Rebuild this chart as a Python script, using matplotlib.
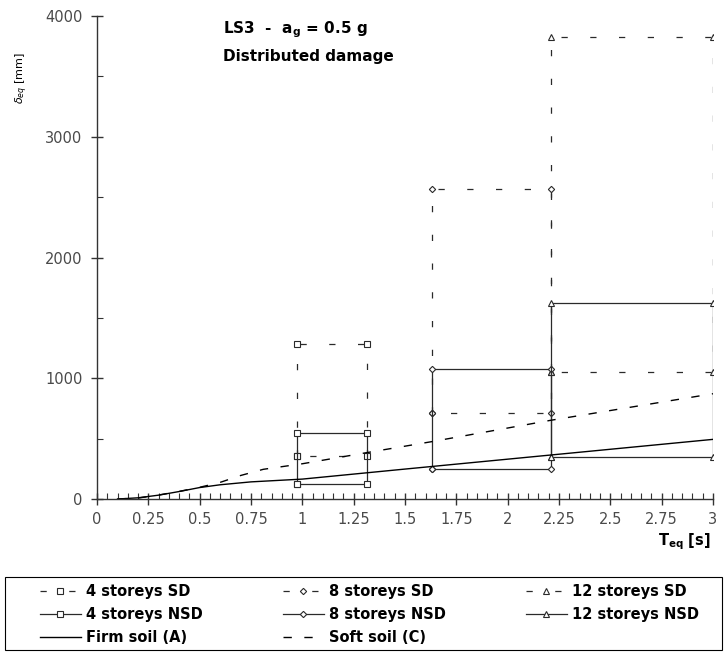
import matplotlib
matplotlib.use('Agg')
import matplotlib.pyplot as plt
from matplotlib.ticker import MultipleLocator, FormatStrFormatter
from matplotlib.patches import Rectangle

plt.rcParams['font.family'] = ['DejaVu Sans']
plt.rcParams['mathtext.fontset'] = 'dejavusans'

# Box limits: (T_left, T_right) and (delta_low, delta_high)
t4 = [0.975, 1.315]
t8 = [1.63, 2.21]
t12 = [2.21, 3.0]
sd4 = [356, 1282]
nsd4 = [124, 543]
sd8 = [709, 2564]
nsd8 = [245, 1078]
sd12 = [1056, 3830]
nsd12 = [350, 1621]

# Displacement spectra
firm_T = [0.1, 0.2, 0.3, 0.4, 0.5, 0.6, 0.75, 1.0, 1.5, 2.0, 2.5, 3.0]
firm_d = [0, 10, 32, 62, 95, 118, 142, 165, 248, 330, 412, 494]
soft_T = [0.1, 0.2, 0.3, 0.4, 0.5, 0.6, 0.7, 0.81, 1.0, 1.31, 1.63, 2.21, 3.0]
soft_d = [0, 8, 33, 63, 97, 138, 195, 246, 292, 383, 475, 652, 872]

x_ticks = [0, 0.25, 0.5, 0.75, 1, 1.25, 1.5, 1.75, 2, 2.25, 2.5, 2.75, 3]
y_ticks = [0, 1000, 2000, 3000, 4000]

LINE = '#2a2a2a'
SD_DASH = (0, (5, 18))
SOFT_DASH = (0, (6, 9))


def rect(t, d):
    xs = [t[0], t[0], t[1], t[1], t[0]]
    ys = [d[0], d[1], d[1], d[0], d[0]]
    return xs, ys


fig = plt.figure(figsize=(7.27, 6.53), dpi=100)
ax = fig.add_axes([0.1334, 0.2358, 0.8473, 0.7397])

boxes = [
    (t4, sd4, 's', SD_DASH, '4 storeys SD'),
    (t8, sd8, 'D', SD_DASH, '8 storeys SD'),
    (t12, sd12, '^', SD_DASH, '12 storeys SD'),
    (t4, nsd4, 's', '-', '4 storeys NSD'),
    (t8, nsd8, 'D', '-', '8 storeys NSD'),
    (t12, nsd12, '^', '-', '12 storeys NSD'),
]
handles = {}
for t, d, m, ls, lab in boxes:
    xs, ys = rect(t, d)
    ms = 3.2 if m == 'D' else 4
    h, = ax.plot(xs, ys, color=LINE, lw=0.9, ls=ls, marker=m, markersize=ms,
                 markerfacecolor='white', markeredgecolor=LINE, markeredgewidth=0.8,
                 label=lab)
    handles[lab] = h

h_firm, = ax.plot(firm_T, firm_d, color='black', lw=1.0, label='Firm soil (A)')
h_soft, = ax.plot(soft_T, soft_d, color='black', lw=1.0, ls=SOFT_DASH, label='Soft soil (C)')

ax.set_xlim(0, 3)
ax.set_ylim(0, 4000)
ax.set_xticks(x_ticks)
ax.xaxis.set_major_formatter(FormatStrFormatter('%g'))
ax.xaxis.set_minor_locator(MultipleLocator(0.05))
ax.set_yticks(y_ticks)
ax.yaxis.set_minor_locator(MultipleLocator(500))

for s in ['top', 'right']:
    ax.spines[s].set_visible(False)
for s in ['left', 'bottom']:
    ax.spines[s].set_color('#333333')
    ax.spines[s].set_linewidth(1.0)

ax.tick_params(which='major', direction='inout', length=9, width=1, color='#333333',
               labelsize=10.5, labelcolor='#4a4a4a')
ax.tick_params(which='minor', direction='in', length=4, width=0.8, color='#333333')
ax.tick_params(axis='y', pad=6)
ax.tick_params(axis='x', pad=5)

fig.text(0.977, 0.171, r'$\mathbf{T_{eq}}$ [s]', ha='right', va='center',
         fontsize=10.5, fontweight='bold')
fig.text(0.03, 0.88, r'$\delta_{eq}$ [mm]', rotation=90, ha='center', va='center',
         fontsize=8)

ax.text(0.205, 0.972, r'LS3  -  a$_\mathbf{g}$ = 0.5 g', transform=ax.transAxes,
        fontsize=11, fontweight='bold', va='center')
ax.text(0.205, 0.916, 'Distributed damage', transform=ax.transAxes,
        fontsize=11, fontweight='bold', va='center')

leg_handles = [handles['4 storeys SD'], handles['4 storeys NSD'], h_firm,
               handles['8 storeys SD'], handles['8 storeys NSD'], h_soft,
               handles['12 storeys SD'], handles['12 storeys NSD']]
leg_labels = [h.get_label() for h in leg_handles]

leg = fig.legend(leg_handles, leg_labels, ncol=3, loc='upper left',
                 bbox_to_anchor=(40 / 727, 1 - 584 / 653), frameon=False,
                 prop={'weight': 'bold', 'size': 10.5}, handlelength=2.8,
                 handletextpad=0.35, labelspacing=0.55, borderpad=0,
                 borderaxespad=0, columnspacing=5.5)

fig.patches.append(Rectangle((5 / 727, 3 / 653), 717 / 727, 73 / 653,
                             transform=fig.transFigure, fill=False,
                             edgecolor='black', lw=0.8))

fig.savefig('out.png', dpi=100)
